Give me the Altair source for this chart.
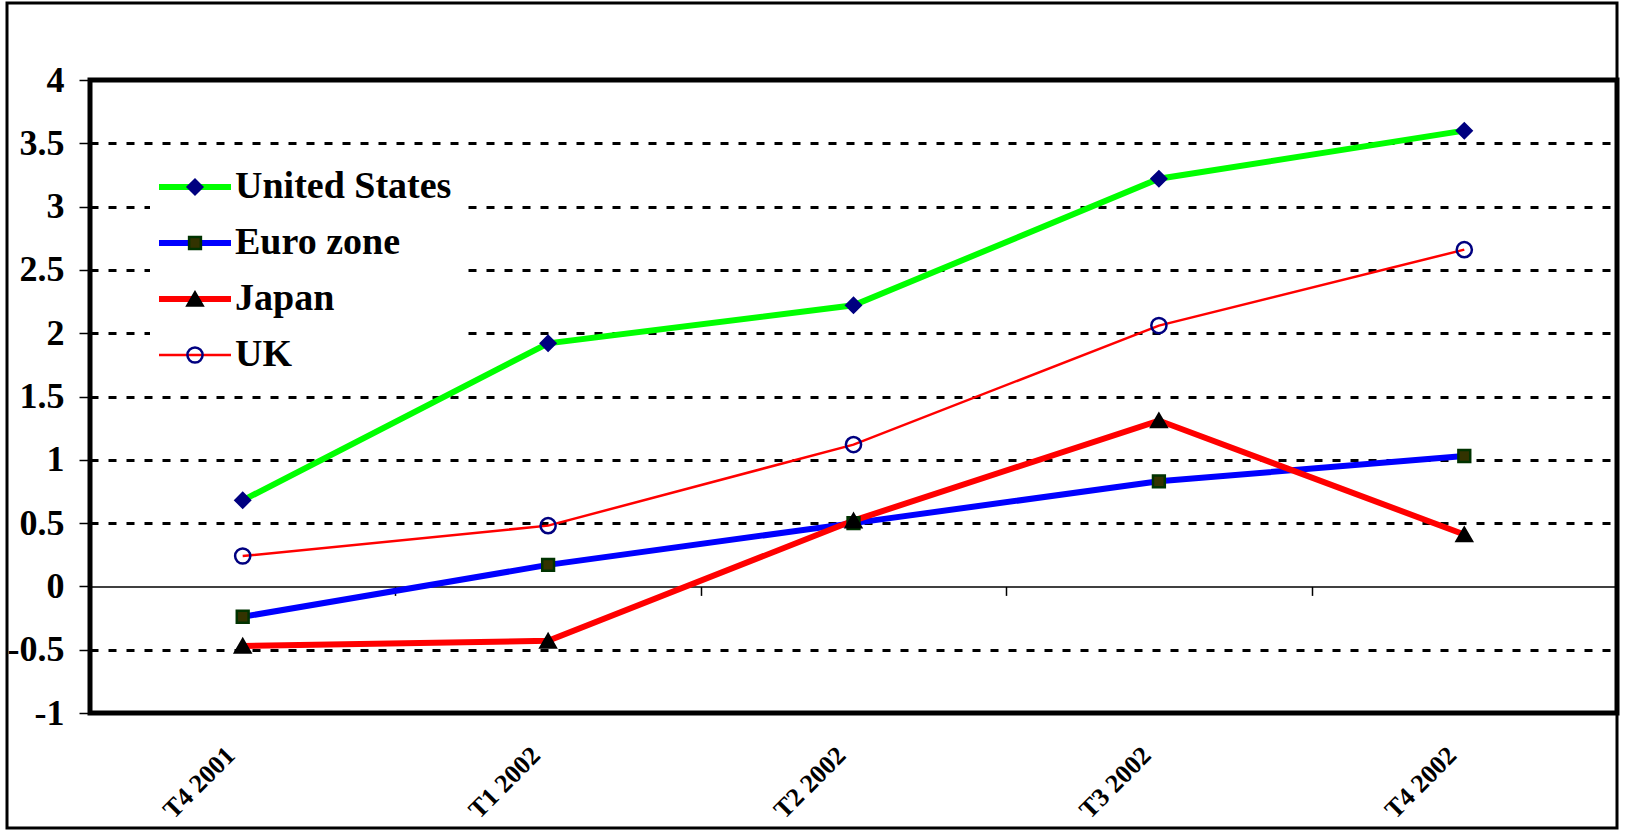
import altair as alt
import pandas as pd

quarters = ["T4 2001", "T1 2002", "T2 2002", "T3 2002", "T4 2002"]
series = ["United States", "Euro zone", "Japan", "UK"]
us = [0.68, 1.92, 2.22, 3.22, 3.60]
euro = [-0.24, 0.17, 0.50, 0.83, 1.03]
japan = [-0.47, -0.43, 0.52, 1.31, 0.41]
uk = [0.24, 0.48, 1.12, 2.06, 2.66]
y_ticks = [-1, -0.5, 0, 0.5, 1, 1.5, 2, 2.5, 3, 3.5, 4]

line_colors = ["#00ff00", "#0000ff", "#ff0000", "#ff0000"]
line_widths = [6, 6, 6, 2.5]
marker_shapes = ["diamond", "square", "triangle-up", "circle"]
marker_fills = ["#000080", "#333300", "#000000", "transparent"]
marker_strokes = ["#000080", "#003300", "#000000", "#000080"]
marker_sizes = [210, 140, 230, 230]

rows = []
for i, (name, vals) in enumerate(zip(series, [us, euro, japan, uk])):
    for q, v in zip(quarters, vals):
        rows.append({"quarter": q, "series": name, "code": i, "value": v})
df = pd.DataFrame(rows)
codes = list(range(len(series)))

font = "Liberation Serif"
W, H = 1527, 633
PAD_L, PAD_T = 90, 80

xscale = alt.Scale(type="band", paddingInner=0, paddingOuter=0)

y_axis = alt.Axis(
    values=y_ticks, title=None, domain=False,
    ticks=True, tickColor="black", tickSize=11, tickWidth=1.5,
    labelFont=font, labelFontWeight="bold", labelFontSize=36,
    labelColor="black", labelPadding=15, labelExpr="'' + datum.value",
    grid=True, gridColor="black", gridWidth=3, gridDash=[8, 10],
    gridOpacity={"condition": {"test": "datum.value === 0", "value": 0}, "value": 1},
)
y_enc = alt.Y("value:Q", scale=alt.Scale(domain=[-1, 4], nice=False, zero=False), axis=y_axis)

legend_common = dict(
    title=None, orient="none", legendX=60, legendY=78, padding=10,
    rowPadding=18, symbolOffset=16, labelOffset=21,
    labelFont=font, labelFontWeight="bold", labelFontSize=38, labelColor="black",
    labelLimit=400,
)

lines = alt.Chart(df).mark_line(strokeCap="butt").encode(
    x=alt.X("quarter:N", sort=quarters, scale=xscale, bandPosition=0.5,
            axis=alt.Axis(orient="bottom", offset=-126.6, title=None, labels=False,
                          domain=True, domainColor="black", domainWidth=1.5,
                          ticks=True, tickColor="black", tickWidth=1.5, tickSize=9,
                          tickBand="extent", grid=False)),
    y=y_enc,
    stroke=alt.Stroke("series:N", scale=alt.Scale(domain=series, range=line_colors),
                      legend=alt.Legend(symbolType="M-3,0H3", symbolSize=576,
                                        fillColor="white", zindex=1, **legend_common)),
    strokeWidth=alt.StrokeWidth("series:N",
                                scale=alt.Scale(type="ordinal", domain=series, range=line_widths)),
    detail="series:N",
)

points = alt.Chart(df).mark_point(filled=False, strokeWidth=2.5, opacity=1).encode(
    x=alt.X("quarter:N", sort=quarters, scale=xscale, bandPosition=0.5,
            axis=alt.Axis(orient="bottom", title=None, domain=False, ticks=False, tickSize=0,
                          labelAngle=315, labelAlign="right", labelBaseline="middle",
                          labelFont=font, labelFontWeight="bold", labelFontSize=26,
                          labelColor="black", labelPadding=38, labelOffset=-12, grid=False)),
    y=y_enc,
    color=alt.Color("code:N", scale=alt.Scale(domain=codes, range=marker_strokes),
                    legend=alt.Legend(zindex=2, labelExpr="''", symbolStrokeWidth=2.5,
                                      **legend_common)),
    fill=alt.Fill("code:N", scale=alt.Scale(domain=codes, range=marker_fills)),
    shape=alt.Shape("code:N", scale=alt.Scale(domain=codes, range=marker_shapes)),
    size=alt.Size("code:N", scale=alt.Scale(type="ordinal", domain=codes, range=marker_sizes)),
)

border = alt.Chart(alt.Data(values=[{"a": 1}])).mark_rect(
    fillOpacity=0, stroke="black", strokeWidth=3
).encode(
    x=alt.value(7 - PAD_L), x2=alt.value(W),
    y=alt.value(3 - PAD_T), y2=alt.value(828 - PAD_T),
)

chart = alt.layer(border, lines, points).resolve_axis(x="independent").properties(
    width=W, height=H,
    padding={"left": PAD_L, "top": PAD_T, "right": 1630 - PAD_L - W, "bottom": 831 - PAD_T - H},
    autosize=alt.AutoSizeParams(type="none"),
    background="white",
).configure_view(stroke="black", strokeWidth=5)

chart.save("out.html", embed_options={"renderer": "svg", "actions": False})
